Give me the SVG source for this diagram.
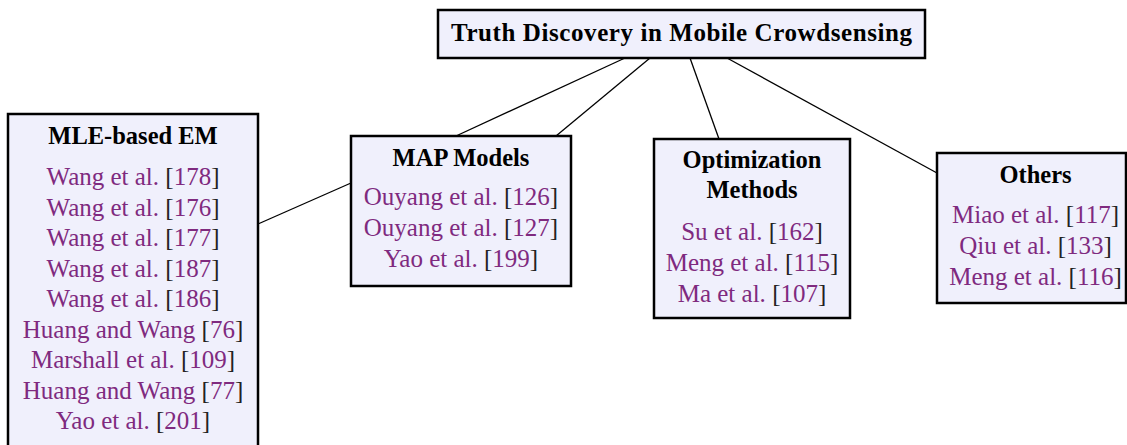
<svg xmlns="http://www.w3.org/2000/svg" width="1127" height="445" viewBox="0 0 1127 445">
<style>
.box{fill:#f0f0fc;stroke:#000;stroke-width:2.5}
.t{font-family:"Liberation Serif",serif;font-weight:bold;font-size:24.5px;fill:#000;text-anchor:middle}
.i{font-family:"Liberation Serif",serif;font-size:25px;fill:#7f2a7f;text-anchor:middle}
.b{fill:#222}
.c{stroke:#000;stroke-width:1.3;fill:none}
</style>
<rect width="1127" height="445" fill="#fff"/>
<g id="connectors">
<line class="c" x1="625" y1="58" x2="456" y2="136"/>
<line class="c" x1="650" y1="58" x2="556" y2="136"/>
<line class="c" x1="690" y1="58" x2="719" y2="139"/>
<line class="c" x1="727" y1="58" x2="937" y2="173"/>
<line class="c" x1="258" y1="224" x2="351" y2="183"/>
</g>
<g id="root">
<rect class="box" x="438" y="10" width="487" height="48"/>
<text class="t" x="681.5" y="41" style="font-size:25px" textLength="461">Truth Discovery in Mobile Crowdsensing</text>
</g>
<g id="mle">
<rect class="box" x="8" y="114" width="250" height="340"/>
<text class="t" x="133" y="144">MLE-based EM</text>
<text class="i" x="133" y="185">Wang et al. <tspan class="b">[</tspan>178<tspan class="b">]</tspan></text>
<text class="i" x="133" y="215.5">Wang et al. <tspan class="b">[</tspan>176<tspan class="b">]</tspan></text>
<text class="i" x="133" y="246">Wang et al. <tspan class="b">[</tspan>177<tspan class="b">]</tspan></text>
<text class="i" x="133" y="276.5">Wang et al. <tspan class="b">[</tspan>187<tspan class="b">]</tspan></text>
<text class="i" x="133" y="307">Wang et al. <tspan class="b">[</tspan>186<tspan class="b">]</tspan></text>
<text class="i" x="133" y="337.5">Huang and Wang <tspan class="b">[</tspan>76<tspan class="b">]</tspan></text>
<text class="i" x="133" y="368">Marshall et al. <tspan class="b">[</tspan>109<tspan class="b">]</tspan></text>
<text class="i" x="133" y="398.5">Huang and Wang <tspan class="b">[</tspan>77<tspan class="b">]</tspan></text>
<text class="i" x="133" y="429">Yao et al. <tspan class="b">[</tspan>201<tspan class="b">]</tspan></text>
</g>
<g id="map">
<rect class="box" x="351" y="136" width="220" height="150"/>
<text class="t" x="461" y="166">MAP Models</text>
<text class="i" x="461" y="205">Ouyang et al. <tspan class="b">[</tspan>126<tspan class="b">]</tspan></text>
<text class="i" x="461" y="236">Ouyang et al. <tspan class="b">[</tspan>127<tspan class="b">]</tspan></text>
<text class="i" x="461" y="267">Yao et al. <tspan class="b">[</tspan>199<tspan class="b">]</tspan></text>
</g>
<g id="opt">
<rect class="box" x="654" y="139" width="196" height="179"/>
<text class="t" x="752" y="168">Optimization</text>
<text class="t" x="752" y="198">Methods</text>
<text class="i" x="752" y="240">Su et al. <tspan class="b">[</tspan>162<tspan class="b">]</tspan></text>
<text class="i" x="752" y="271">Meng et al. <tspan class="b">[</tspan>115<tspan class="b">]</tspan></text>
<text class="i" x="752" y="302">Ma et al. <tspan class="b">[</tspan>107<tspan class="b">]</tspan></text>
</g>
<g id="others">
<rect class="box" x="937" y="153" width="189" height="150"/>
<text class="t" x="1035.5" y="183">Others</text>
<text class="i" x="1035.5" y="223">Miao et al. <tspan class="b">[</tspan>117<tspan class="b">]</tspan></text>
<text class="i" x="1035.5" y="254">Qiu et al. <tspan class="b">[</tspan>133<tspan class="b">]</tspan></text>
<text class="i" x="1035.5" y="285">Meng et al. <tspan class="b">[</tspan>116<tspan class="b">]</tspan></text>
</g>
</svg>
